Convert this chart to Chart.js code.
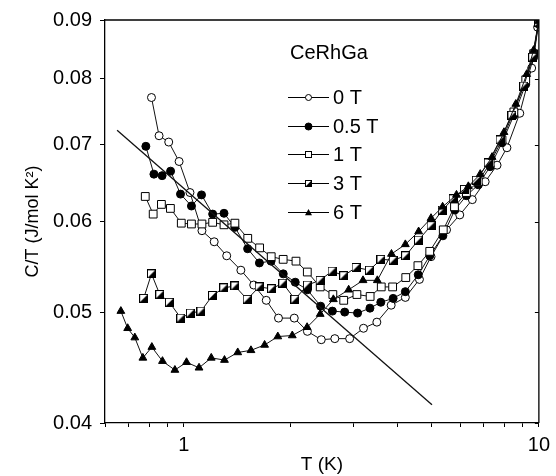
<!DOCTYPE html>
<html>
<head>
<meta charset="utf-8">
<script src="https://cdn.jsdelivr.net/npm/chart.js@4.4.1/dist/chart.umd.min.js"></script>
<style>
  body { margin: 0; background: #fff; }
  #wrap { width: 556px; height: 476px; }
</style>
</head>
<body>
<div id="wrap"><canvas id="heat" width="556" height="476"></canvas></div>
<script>
const FONT = '"Liberation Sans", Arial, Helvetica, sans-serif';

// T (K) / C/T (J/mol K^2)
const t0  = [0.811, 0.852, 0.907, 0.970, 1.041, 1.125, 1.218, 1.321, 1.448, 1.574, 1.707, 1.848, 2.047, 2.229, 2.439, 2.663, 2.932, 3.207, 3.497, 3.837, 4.207, 4.609, 4.969, 5.495, 5.987, 6.494, 7.059, 7.625, 8.129, 8.835, 9.543, 9.918];
const c0  = [0.0770, 0.0713, 0.0704, 0.0677, 0.0636, 0.0589, 0.0576, 0.0560, 0.0544, 0.0528, 0.0512, 0.0494, 0.0494, 0.0481, 0.0473, 0.0474, 0.0474, 0.0484, 0.0490, 0.0507, 0.0515, 0.0534, 0.0559, 0.0590, 0.0608, 0.0627, 0.0650, 0.0672, 0.0696, 0.0746, 0.0817, 0.0887];

const t05 = [0.782, 0.824, 0.869, 0.918, 0.979, 1.051, 1.122, 1.206, 1.298, 1.393, 1.513, 1.633, 1.761, 1.906, 2.060, 2.229, 2.429, 2.621, 2.839, 3.086, 3.344, 3.588, 3.887, 4.207, 4.574, 4.928, 5.367, 5.796, 6.249, 6.749, 7.290, 7.873, 8.502, 9.183, 9.665, 9.98];
const c05 = [0.0698, 0.0660, 0.0658, 0.0664, 0.0634, 0.0619, 0.0633, 0.0609, 0.0610, 0.0593, 0.0568, 0.0552, 0.0554, 0.0540, 0.0531, 0.0523, 0.0506, 0.0501, 0.0500, 0.0499, 0.0504, 0.0510, 0.0514, 0.0521, 0.0539, 0.0560, 0.0583, 0.0614, 0.0632, 0.0646, 0.0670, 0.0703, 0.0743, 0.0791, 0.0835, 0.0893];

const t1  = [0.779, 0.820, 0.865, 0.917, 0.984, 1.051, 1.125, 1.206, 1.298, 1.393, 1.514, 1.635, 1.763, 1.905, 2.070, 2.228, 2.422, 2.629, 2.821, 3.073, 3.348, 3.599, 3.874, 4.218, 4.564, 4.928, 5.380, 5.785, 6.249, 6.749, 7.290, 7.873, 8.502, 9.183, 9.665, 9.98];
const c1  = [0.0631, 0.0609, 0.0621, 0.0616, 0.0598, 0.0597, 0.0597, 0.0599, 0.0596, 0.0598, 0.0580, 0.0569, 0.0559, 0.0556, 0.0554, 0.0542, 0.0526, 0.0518, 0.0512, 0.0518, 0.0516, 0.0526, 0.0526, 0.0536, 0.0549, 0.0565, 0.0590, 0.0618, 0.0636, 0.0650, 0.0675, 0.0707, 0.0748, 0.0798, 0.0841, 0.0895];

const t3  = [0.771, 0.811, 0.856, 0.911, 0.981, 1.044, 1.118, 1.205, 1.296, 1.393, 1.508, 1.630, 1.767, 1.900, 2.056, 2.229, 2.419, 2.615, 2.821, 3.056, 3.333, 3.592, 3.887, 4.213, 4.580, 4.969, 5.346, 5.737, 6.171, 6.664, 7.197, 7.772, 8.395, 9.065, 9.605, 9.98];
const c3  = [0.0514, 0.0540, 0.0518, 0.0510, 0.0494, 0.0499, 0.0501, 0.0517, 0.0525, 0.0527, 0.0513, 0.0526, 0.0524, 0.0530, 0.0513, 0.0528, 0.0533, 0.0543, 0.0538, 0.0547, 0.0544, 0.0556, 0.0555, 0.0560, 0.0578, 0.0595, 0.0614, 0.0628, 0.0640, 0.0652, 0.0675, 0.0707, 0.0743, 0.0788, 0.0835, 0.0896];

const t6  = [0.665, 0.695, 0.728, 0.767, 0.813, 0.871, 0.944, 1.018, 1.104, 1.195, 1.302, 1.419, 1.546, 1.689, 1.840, 2.021, 2.225, 2.422, 2.638, 2.913, 3.197, 3.508, 3.845, 4.207, 4.585, 4.969, 5.357, 5.861, 6.330, 6.837, 7.383, 7.975, 8.612, 9.241, 9.665, 9.98];
const c6  = [0.0501, 0.0484, 0.0475, 0.0456, 0.0466, 0.0453, 0.0445, 0.0452, 0.0447, 0.0456, 0.0454, 0.0461, 0.0463, 0.0468, 0.0476, 0.0477, 0.0485, 0.0498, 0.0513, 0.0523, 0.0533, 0.0533, 0.0562, 0.0573, 0.0588, 0.0604, 0.0618, 0.0633, 0.0644, 0.0660, 0.0683, 0.0718, 0.0760, 0.0807, 0.0847, 0.0898];

// straight guide line (ends)
const fitT = [0.649, 5.0];
const fitC = [0.0721, 0.0415];

const fieldLabels = ['0 T', '0.5 T', '1 T', '3 T', '6 T'];
const xTicks = [0.6, 0.7, 0.8, 0.9, 1, 2, 3, 4, 5, 6, 7, 8, 9, 10];
const yTicks = [0.04, 0.05, 0.06, 0.07, 0.08, 0.09];

function pts(xs, ys) {
  return xs.map((x, i) => ({ x: x, y: ys[i] }));
}

// square with the lower right half filled, for the 3 T curve
function halfSquare(size) {
  const c = document.createElement('canvas');
  c.width = size + 1;
  c.height = size + 1;
  const g = c.getContext('2d');
  g.fillStyle = '#fff';
  g.fillRect(0.5, 0.5, size, size);
  g.fillStyle = '#000';
  g.beginPath();
  g.moveTo(size + 0.5, 0.5);
  g.lineTo(size + 0.5, size + 0.5);
  g.lineTo(0.5, size + 0.5);
  g.closePath();
  g.fill();
  g.strokeStyle = '#000';
  g.lineWidth = 1;
  g.strokeRect(0.5, 0.5, size, size);
  return c;
}
const halfBig = halfSquare(8);
const halfSmall = halfSquare(6);

function series(label, data, style, radius, fill, width) {
  return {
    label: label,
    data: data,
    showLine: true,
    borderColor: '#111',
    borderWidth: width || 1,
    pointStyle: style,
    pointRadius: radius,
    pointBorderWidth: 1,
    pointBorderColor: '#000',
    pointBackgroundColor: fill,
    fill: false
  };
}

const sets = [
  series('fit', pts(fitT, fitC), 'circle', 0, '#000', 1.3),
  series(fieldLabels[4], pts(t6, c6), 'triangle', 4.5, '#000'),
  series(fieldLabels[3], pts(t3, c3), halfBig, 4.5, '#fff'),
  series(fieldLabels[2], pts(t1, c1), 'rect', 5.5, '#fff'),
  series(fieldLabels[1], pts(t05, c05), 'circle', 4, '#000'),
  series(fieldLabels[0], pts(t0, c0), 'circle', 4, '#fff')
];

function drawMark(ctx, style, x, y, r, fill) {
  ctx.fillStyle = fill;
  ctx.strokeStyle = '#000';
  ctx.lineWidth = 1;
  if (style === 'circle') {
    ctx.beginPath();
    ctx.arc(x, y, r, 0, Math.PI * 2);
    ctx.fill();
    ctx.stroke();
  } else if (style === 'rect') {
    ctx.fillRect(x - r, y - r, 2 * r, 2 * r);
    ctx.strokeRect(x - r, y - r, 2 * r, 2 * r);
  } else if (style === 'triangle') {
    ctx.beginPath();
    ctx.moveTo(x, y - r);
    ctx.lineTo(x + r, y + r * 0.75);
    ctx.lineTo(x - r, y + r * 0.75);
    ctx.closePath();
    ctx.fill();
  } else {
    ctx.drawImage(style, Math.round(x - style.width / 2), Math.round(y - style.height / 2));
  }
}

const legendBox = {
  id: 'legendBox',
  afterDraw(chart) {
    const ctx = chart.ctx;
    const marks = [['circle', '#fff', 3], ['circle', '#000', 3.5], ['rect', '#fff', 3], [halfSmall, '#fff', 3], ['triangle', '#000', 3.5]];
    ctx.save();
    ctx.fillStyle = '#000';
    ctx.font = '20px ' + FONT;
    ctx.textBaseline = 'middle';
    ctx.fillText('CeRhGa', 290, 53);
    fieldLabels.forEach((lab, i) => {
      const y = Math.round(97 + i * 28.7) + 0.5;
      ctx.strokeStyle = '#000';
      ctx.lineWidth = 1;
      ctx.beginPath();
      ctx.moveTo(288, y);
      ctx.lineTo(329, y);
      ctx.stroke();
      drawMark(ctx, marks[i][0], 308.5, y, marks[i][2], marks[i][1]);
      ctx.fillStyle = '#000';
      ctx.font = '20px ' + FONT;
      ctx.fillText(lab, 333, y + 1);
    });
    ctx.restore();
  }
};

// top and right frame lines, inward ticks on the right side
const frame = {
  id: 'frame',
  afterDraw(chart) {
    const ctx = chart.ctx;
    const a = chart.chartArea;
    const ys = chart.scales.y;
    ctx.save();
    ctx.strokeStyle = '#000';
    ctx.lineWidth = 1.3;
    ctx.beginPath();
    ctx.moveTo(a.left, a.top);
    ctx.lineTo(a.right, a.top);
    ctx.lineTo(a.right, a.bottom);
    ctx.stroke();
    ctx.lineWidth = 1;
    yTicks.forEach(v => {
      const py = Math.round(ys.getPixelForValue(v)) + 0.5;
      ctx.beginPath();
      ctx.moveTo(a.right, py);
      ctx.lineTo(a.right - 4, py);
      ctx.stroke();
    });
    ctx.restore();
  }
};

const heat = new Chart(document.getElementById('heat').getContext('2d'), {
  type: 'scatter',
  data: { datasets: sets },
  options: {
    responsive: false,
    animation: false,
    layout: { padding: { top: 20, right: 13, left: 0, bottom: 0 } },
    plugins: {
      legend: { display: false },
      tooltip: { enabled: false }
    },
    scales: {
      x: {
        type: 'logarithmic',
        min: 0.6,
        max: 10,
        afterBuildTicks: s => { s.ticks = xTicks.map(v => ({ value: v })); },
        afterFit: s => { s.height = 53; },
        ticks: {
          autoSkip: false,
          maxRotation: 0,
          padding: 6,
          color: '#000',
          font: { family: FONT, size: 20 },
          callback: v => (v === 1 || v === 10) ? String(v) : ''
        },
        grid: { drawOnChartArea: false, drawTicks: true, tickLength: 4, color: '#000' },
        border: { display: true, color: '#000', width: 1.3 },
        title: {
          display: true,
          text: 'T (K)',
          color: '#000',
          font: { family: FONT, size: 19 },
          padding: { top: 0, bottom: 0 }
        }
      },
      y: {
        type: 'logarithmic',
        min: 0.04,
        max: 0.09,
        afterBuildTicks: s => { s.ticks = yTicks.map(v => ({ value: v })); },
        afterFit: s => { s.width = 105; },
        ticks: {
          padding: 8,
          color: '#000',
          font: { family: FONT, size: 20 },
          callback: v => v.toFixed(2)
        },
        grid: { drawOnChartArea: false, drawTicks: true, tickLength: 5, color: '#000' },
        border: { display: true, color: '#000', width: 1.3 },
        title: {
          display: true,
          text: 'C/T (J/mol K²)',
          color: '#000',
          font: { family: FONT, size: 18 },
          padding: { top: 22, bottom: 0 }
        }
      }
    }
  },
  plugins: [legendBox, frame]
});
</script>
</body>
</html>
